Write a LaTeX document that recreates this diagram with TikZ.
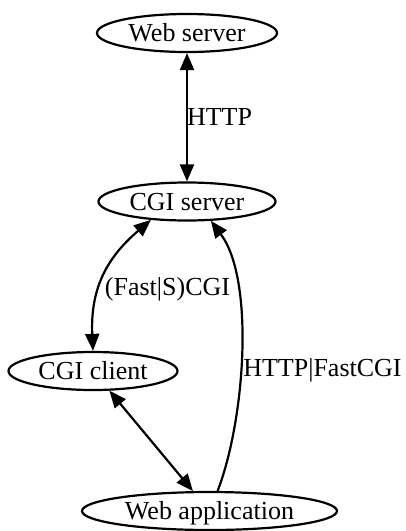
\documentclass[tikz,border=0pt]{standalone}
\usepackage{fontspec}
\setmainfont{Liberation Serif}
\usetikzlibrary{shapes.geometric,arrows.meta}
\begin{document}
\begin{tikzpicture}[x=1pt,y=-1pt,
  gnode/.style={ellipse, draw, line width=2.2pt, inner sep=0pt, minimum height=38pt,
    text height=17pt, text depth=0pt, font=\fontsize{26}{30}\selectfont},
  elabel/.style={inner sep=0pt, text height=17pt, text depth=0pt, font=\fontsize{26}{30}\selectfont},
  conn/.style={line width=2.2pt, -{Triangle[length=17pt,width=14pt]}},
  biconn/.style={line width=2.2pt, {Triangle[length=17pt,width=14pt]}-{Triangle[length=17pt,width=14pt]}}]
\useasboundingbox (0,0) rectangle (406,531);
\node[gnode, minimum width=180pt] (ws) at (187,33) {Web server};
\node[gnode, minimum width=177pt] (cs) at (187,201.5) {CGI server};
\node[gnode, minimum width=169pt] (cc) at (93,371) {CGI client};
\node[gnode, minimum width=255pt] (wa) at (209.5,511) {Web application};
\draw[biconn] (ws) -- (cs);
\draw[biconn] (cs.207) .. controls (110,255) and (90,285) .. (cc.north);
\draw[biconn] (cc) -- (wa);
\draw[conn] (wa.68) .. controls (245,420) and (255,280) .. (cs.-39);
\node[elabel] (l1) at (219.5,117) {HTTP};
\node[elabel] (l2) at (167.5,287) {(Fast|S)CGI};
\node[elabel] (l3) at (322.5,368) {HTTP|FastCGI};
\end{tikzpicture}
\end{document}
